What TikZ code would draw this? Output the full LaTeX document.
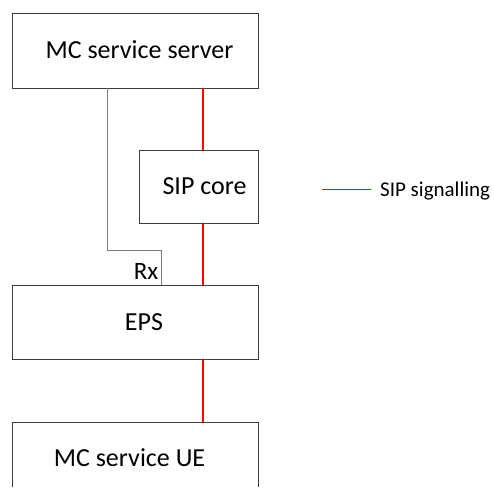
\documentclass[tikz,border=0pt]{standalone}
\usepackage{fontspec}
\setmainfont{Carlito}
\definecolor{ink}{RGB}{0,0,0}
\definecolor{sipred}{RGB}{255,0,0}
\definecolor{boxgray}{RGB}{60,60,60}
\definecolor{rxgray}{RGB}{125,125,125}
\tikzset{
  boxst/.style={draw=boxgray,line width=1pt,rectangle,inner sep=0pt,outer sep=0pt},
  lbl/.style={inner sep=0pt,anchor=base,text=ink,font=\fontsize{26}{30}\selectfont},
  sigline/.style={draw=sipred,line width=1.5pt},
  rxline/.style={draw=rxgray,line width=1pt}
}
\begin{document}
\begin{tikzpicture}[x=1pt,y=-1pt]
\useasboundingbox (0,0) rectangle (494,490);
\coordinate (redx) at (203,0);
% boxes
\node[boxst,minimum width=246pt,minimum height=75pt] (server) at (135,50.5) {};
\node[boxst,minimum width=119pt,minimum height=73pt] (sip) at (198.5,186.5) {};
\node[boxst,minimum width=246pt,minimum height=74pt] (eps) at (135,322) {};
\node[inner sep=0pt,outer sep=0pt,minimum width=246pt,minimum height=65pt] (ue) at (135,454.5) {};
\draw[draw=boxgray,line width=1pt] (ue.south west) -- (ue.north west) -- (ue.north east) -- (ue.south east);
% SIP signalling lines
\draw[sigline] (server.south -| redx) -- (sip.north -| redx);
\draw[sigline] (sip.south -| redx) -- (eps.north -| redx);
\draw[sigline] (eps.south -| redx) -- (ue.north -| redx);
% legend line
\coordinate (lega) at (322,189.3);
\coordinate (legb) at (370.5,189.3);
\draw[sigline] (lega) -- (legb);
% Rx path
\coordinate (rxa) at (107,0);
\coordinate (rxb) at (161,250);
\draw[rxline] (server.south -| rxa) |- (rxb) -- (eps.north -| rxb);
% texts
\node[lbl] (tserver) at (139.5,58.3) {MC service server};
\node[lbl] (tsip) at (204.5,194) {SIP core};
\node[lbl] (teps) at (144,330) {EPS};
\node[lbl] (tue) at (129.5,466) {MC service UE};
\node[inner sep=0pt,anchor=base east,text=ink,font=\fontsize{25}{30}\selectfont] (rx) at (158.5,279) {Rx};
\node[inner sep=0pt,anchor=base west,text=ink,font=\fontsize{21}{25}\selectfont] (legt) at (380,196) {SIP signalling};
\end{tikzpicture}
\end{document}
